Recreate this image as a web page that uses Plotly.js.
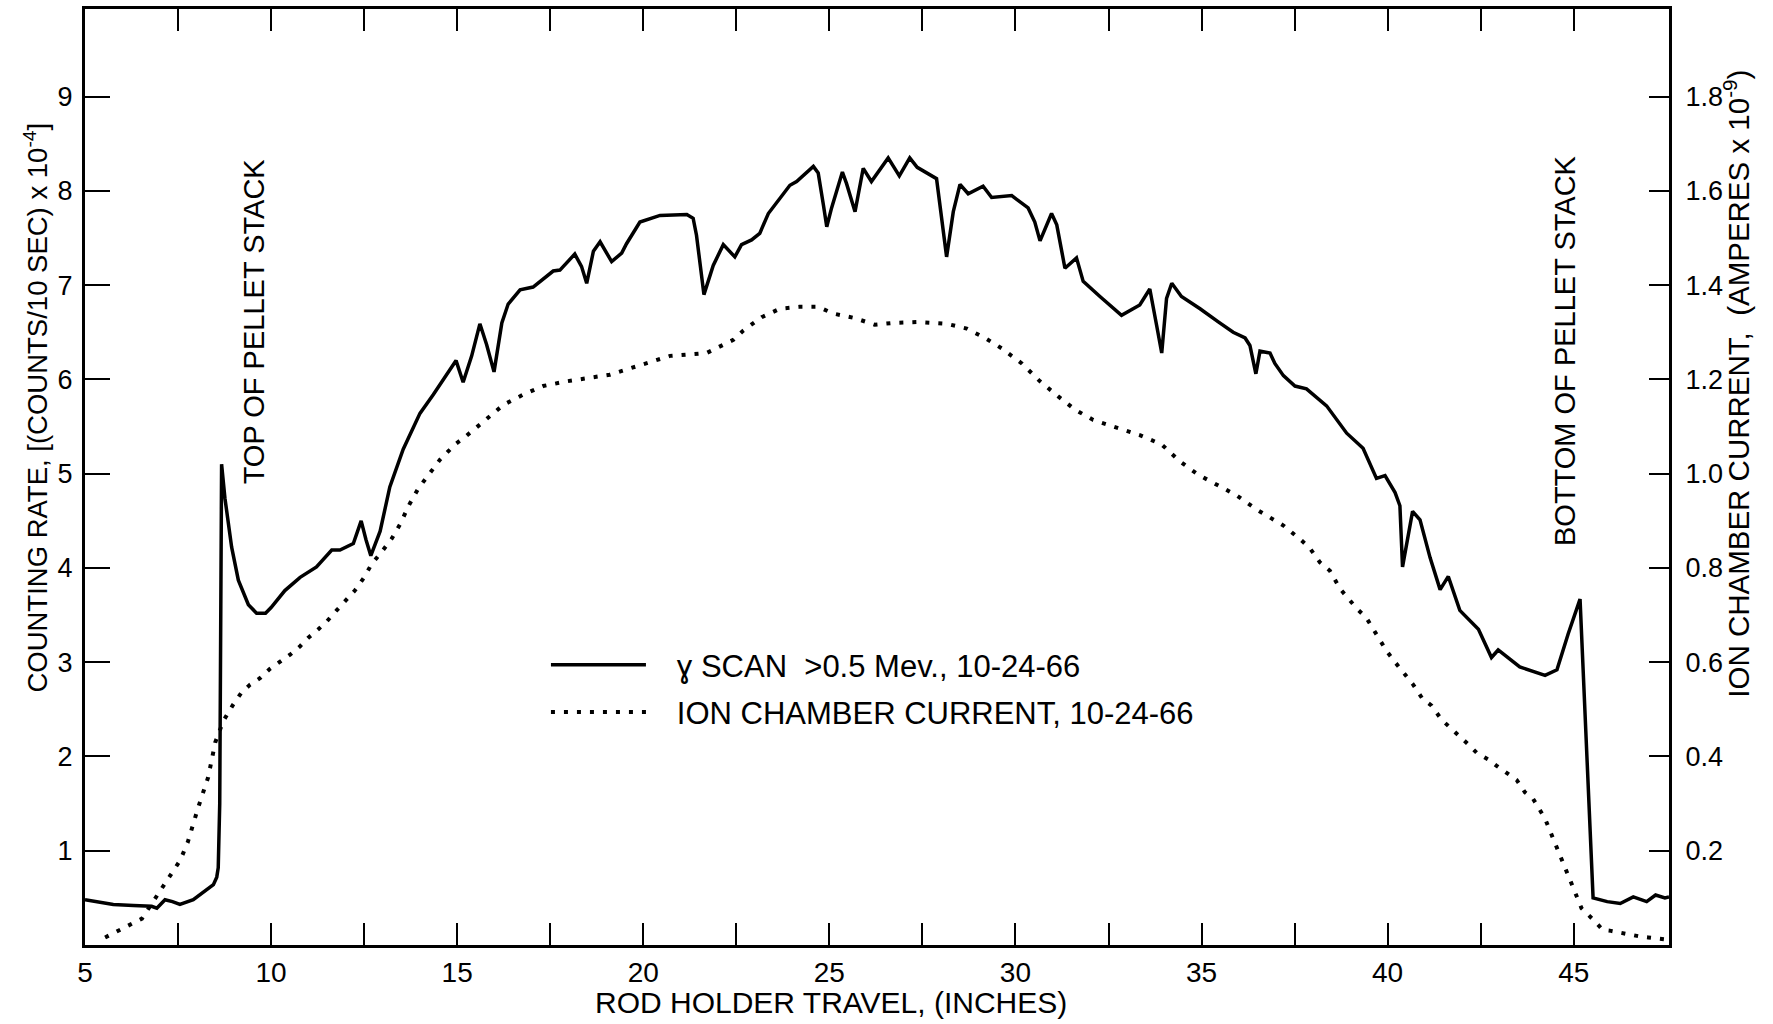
<!DOCTYPE html>
<html><head><meta charset="utf-8">
<script src="https://cdn.plot.ly/plotly-3.0.1.min.js"></script>
<style>html,body{margin:0;padding:0;background:#fff}#chart{width:1773px;height:1024px}</style>
</head><body><div id="chart"></div>
<script>
// Gamma scan (>0.5 MeV) counting rate, counts/10 s x 1e-4  (left axis)
const xGamma = [5.0,5.76,6.3,6.79,6.93,7.15,7.35,7.55,7.91,8.09,8.27,8.45,8.54,8.58,8.62,8.65,8.67,8.76,8.94,9.12,9.39,9.61,9.85,10.0,10.37,10.78,11.22,11.63,11.85,12.21,12.42,12.55,12.68,12.93,13.19,13.55,14.0,14.36,14.72,14.97,15.16,15.39,15.61,15.79,15.99,16.2,16.37,16.69,17.04,17.58,17.76,18.16,18.34,18.48,18.66,18.84,19.15,19.42,19.55,19.91,20.45,21.17,21.34,21.43,21.63,21.88,22.15,22.46,22.64,22.91,23.13,23.36,23.94,24.12,24.57,24.7,24.84,24.93,25.06,25.35,25.46,25.69,25.91,26.13,26.58,26.88,27.16,27.36,27.88,28.02,28.15,28.33,28.51,28.73,29.13,29.36,29.9,30.34,30.52,30.66,30.97,31.11,31.33,31.64,31.82,32.27,32.85,33.34,33.61,33.79,33.93,34.06,34.2,34.46,34.96,35.45,35.85,36.17,36.3,36.46,36.57,36.84,36.97,37.2,37.51,37.82,38.36,38.9,39.34,39.7,39.93,40.2,40.33,40.4,40.51,40.67,40.87,41.14,41.41,41.63,41.94,42.44,42.79,42.97,43.55,44.23,44.55,44.85,45.17,45.52,45.9,46.25,46.6,46.96,47.2,47.45,47.56];
const yGamma = [0.48,0.43,0.42,0.41,0.39,0.48,0.46,0.43,0.48,0.53,0.58,0.64,0.72,0.82,1.5,3.5,5.10,4.74,4.22,3.87,3.61,3.52,3.52,3.58,3.76,3.90,4.01,4.19,4.19,4.26,4.50,4.30,4.13,4.39,4.86,5.26,5.64,5.84,6.05,6.20,5.97,6.25,6.59,6.37,6.08,6.60,6.80,6.95,6.98,7.15,7.16,7.33,7.20,7.02,7.36,7.46,7.25,7.34,7.44,7.67,7.74,7.75,7.71,7.53,6.90,7.21,7.43,7.30,7.43,7.48,7.55,7.76,8.06,8.10,8.26,8.19,7.85,7.62,7.82,8.20,8.08,7.78,8.24,8.10,8.35,8.16,8.35,8.25,8.13,7.71,7.30,7.78,8.07,7.97,8.05,7.93,7.95,7.82,7.67,7.47,7.76,7.64,7.18,7.29,7.04,6.88,6.68,6.79,6.96,6.58,6.28,6.86,7.02,6.88,6.75,6.61,6.50,6.44,6.36,6.06,6.30,6.28,6.17,6.04,5.93,5.90,5.72,5.43,5.27,4.95,4.98,4.80,4.66,4.01,4.26,4.60,4.51,4.11,3.77,3.91,3.55,3.35,3.05,3.13,2.95,2.86,2.92,3.30,3.67,0.50,0.46,0.44,0.51,0.46,0.53,0.50,0.51];

// Ion chamber current, amperes x 1e-9 (right axis)
const xIon = [5.54,6.53,7.56,7.76,8.05,8.31,8.5,8.72,8.98,9.21,9.43,9.7,9.97,10.24,10.51,10.78,11.0,11.27,11.49,11.76,11.99,12.25,12.5,12.7,12.97,13.24,13.46,13.71,13.95,14.27,14.54,14.94,15.21,15.7,15.97,16.24,16.78,17.31,17.94,19.1,19.91,20.72,21.7,22.42,22.69,23.18,23.67,24.19,24.7,25.1,25.69,26.22,26.72,27.39,28.15,28.69,29.18,29.63,30.17,30.66,31.15,31.6,32.09,32.72,33.34,33.93,34.42,34.91,35.45,35.94,36.48,36.88,37.2,37.69,37.91,38.18,38.45,38.72,39.17,39.43,39.7,39.97,40.2,40.69,40.94,41.18,41.45,41.67,41.94,42.19,42.39,42.7,42.93,43.2,43.47,43.69,43.91,44.23,44.47,44.72,44.99,45.21,45.52,45.78,46.0,46.24,46.51,46.78,47.0,47.2,47.45];
const yIon = [0.016,0.056,0.18,0.218,0.294,0.356,0.43,0.476,0.51,0.536,0.552,0.566,0.586,0.6,0.616,0.634,0.652,0.67,0.686,0.71,0.73,0.752,0.78,0.808,0.834,0.862,0.892,0.934,0.968,1.0,1.03,1.062,1.078,1.11,1.128,1.146,1.168,1.186,1.196,1.21,1.23,1.25,1.256,1.284,1.304,1.332,1.35,1.354,1.354,1.34,1.33,1.316,1.32,1.322,1.318,1.308,1.288,1.266,1.234,1.196,1.164,1.136,1.114,1.098,1.082,1.062,1.026,0.998,0.976,0.954,0.924,0.904,0.89,0.858,0.842,0.812,0.794,0.756,0.714,0.694,0.66,0.624,0.6,0.552,0.522,0.508,0.478,0.462,0.444,0.424,0.408,0.394,0.38,0.364,0.35,0.324,0.31,0.268,0.222,0.174,0.118,0.078,0.054,0.032,0.03,0.026,0.022,0.018,0.016,0.014,0.012];

const xTickVals = [5,7.5,10,12.5,15,17.5,20,22.5,25,27.5,30,32.5,35,37.5,40,42.5,45];
const xTickText = ['5','','10','','15','','20','','25','','30','','35','','40','','45'];
const yLeftTickVals = [1,2,3,4,5,6,7,8,9];
const yRightTickVals = [0.2,0.4,0.6,0.8,1.0,1.2,1.4,1.6,1.8];

const seriesNames = ['\u00A0\u00A0\u00A0\u0263 SCAN \u00A0&gt;0.5 Mev., 10-24-66', '\u00A0\u00A0\u00A0ION CHAMBER CURRENT, 10-24-66'];
const xTitle = 'ROD HOLDER TRAVEL, (INCHES)';
const yLeftTitle = 'COUNTING RATE, [(COUNTS/10 SEC) x 10<sup>-4</sup>]';
const yRightTitle = 'ION CHAMBER CURRENT, \u00A0(AMPERES x 10<sup>-9</sup>)';
const annTexts = ['TOP OF PELLET STACK', 'BOTTOM OF PELLET STACK'];
const annX = [9.55, 44.76];
const annY = [6.62, 6.31];

const FONT = 'Liberation Sans, Arial, sans-serif';
const NARROW = 'Liberation Sans Narrow, Arial Narrow, Liberation Sans, sans-serif';

const traces = [
  {x: xGamma, y: yGamma, type: 'scatter', mode: 'lines', name: seriesNames[0],
   legendgroup: 'g1', line: {color: '#000', width: 3.5, shape: 'linear'}, yaxis: 'y'},
  {x: xIon, y: yIon, type: 'scatter', mode: 'lines', name: seriesNames[1],
   legendgroup: 'g2', line: {color: '#000', width: 4, dash: '4px,9px'}, yaxis: 'y2'}
];

const yTop = 9.93;
const annotations = annTexts.map((t, i) => ({
  x: annX[i], y: annY[i], xref: 'x', yref: 'y', text: t, showarrow: false,
  textangle: -90, font: {family: FONT, size: 29, color: '#000'}
}));
// axis titles (placed as annotations so their offset along the axis matches)
annotations.push({x: 0.471, y: -0.0609, xref: 'paper', yref: 'paper', xanchor: 'center', yanchor: 'middle',
  text: xTitle, showarrow: false, font: {family: FONT, size: 30, color: '#000'}});
annotations.push({x: -0.0312, y: 0.5737, xref: 'paper', yref: 'paper', xanchor: 'center', yanchor: 'middle',
  text: yLeftTitle, showarrow: false, textangle: -90, font: {family: FONT, size: 27.5, color: '#000'}});
annotations.push({x: 1.0428, y: 0.5994, xref: 'paper', yref: 'paper', xanchor: 'center', yanchor: 'middle',
  text: yRightTitle, showarrow: false, textangle: -90, font: {family: FONT, size: 29.5, color: '#000'}});

const layout = {
  width: 1773, height: 1024,
  paper_bgcolor: '#fff', plot_bgcolor: '#fff',
  font: {family: FONT, color: '#000', size: 27},
  margin: {l: 85, r: 104, t: 9, b: 79},
  showlegend: true,
  legend: {x: 0.291, y: 0.328, xanchor: 'left', yanchor: 'top', bgcolor: 'rgba(0,0,0,0)',
           font: {family: FONT, size: 31}, itemwidth: 95, traceorder: 'grouped', tracegroupgap: 4},
  xaxis: {
    range: [5, 47.56], tickmode: 'array', tickvals: xTickVals, ticktext: xTickText,
    ticks: 'inside', ticklen: 22, tickwidth: 2, tickcolor: '#000',
    showline: true, linewidth: 3, linecolor: '#000', mirror: 'ticks',
    showgrid: false, zeroline: false, ticklabelstandoff: 0,
    tickfont: {family: NARROW, size: 28}
  },
  yaxis: {
    range: [0, yTop], tickmode: 'array', tickvals: yLeftTickVals,
    ticks: 'inside', ticklen: 25, tickwidth: 2, tickcolor: '#000',
    showline: true, linewidth: 3, linecolor: '#000', mirror: false,
    showgrid: false, zeroline: false, ticklabelstandoff: 4,
    tickfont: {size: 27}
  },
  yaxis2: {
    range: [0, yTop / 5], overlaying: 'y', side: 'right', tickmode: 'array', tickvals: yRightTickVals,
    tickformat: '.1f',
    ticks: 'inside', ticklen: 20, tickwidth: 2, tickcolor: '#000',
    showline: true, linewidth: 3, linecolor: '#000',
    showgrid: false, zeroline: false, ticklabelstandoff: 8,
    tickfont: {size: 27}
  },
  annotations: annotations
};

Plotly.newPlot('chart', traces, layout, {displayModeBar: false, staticPlot: true});
</script>
</body></html>
